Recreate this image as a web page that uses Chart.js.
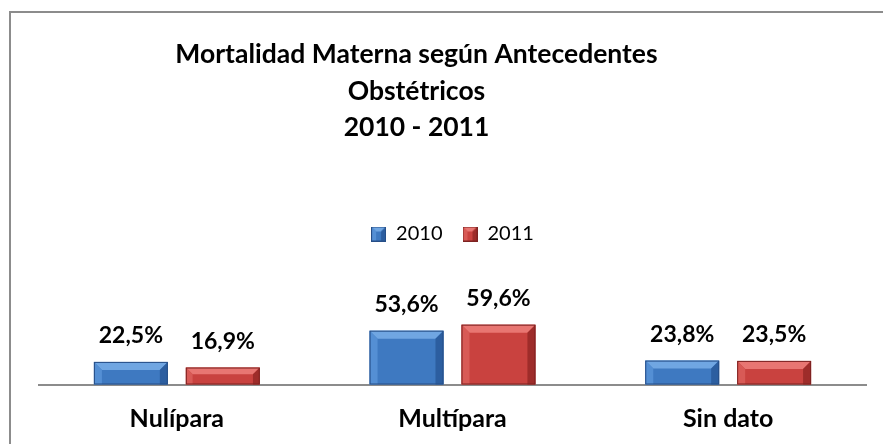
<!DOCTYPE html>
<html><head><meta charset="utf-8">
<script src="https://cdn.jsdelivr.net/npm/chart.js@4/dist/chart.umd.min.js"></script>
<style>html,body{margin:0;padding:0;background:#fff}</style>
</head><body>
<canvas id="c" width="883" height="444" style="display:block"></canvas>
<script>
const categories = ['Nulípara', 'Multípara', 'Sin dato'];
const seriesNames = ['2010', '2011'];
const values2010 = [22.5, 53.6, 23.8];
const values2011 = [16.9, 59.6, 23.5];
const titleLines = ['Mortalidad Materna según Antecedentes', 'Obstétricos', '2010 - 2011'];

const palette = {
  '2010': {face: 'rgb(62,121,193)', top: 'rgb(112,166,226)', left: 'rgb(84,143,212)', right: 'rgb(44,94,160)', edge: 'rgb(38,78,135)'},
  '2011': {face: 'rgb(201,66,63)', top: 'rgb(232,118,114)', left: 'rgb(216,90,86)', right: 'rgb(158,44,42)', edge: 'rgb(125,34,33)'}
};

function bevel(ctx, left, right, top, bottom, c, bMax) {
  const h = bottom - top;
  const b = Math.min(bMax, h / 2.5);
  ctx.save();
  ctx.fillStyle = c.face;
  ctx.fillRect(left, top, right - left, h);
  ctx.fillStyle = c.top;
  ctx.beginPath();
  ctx.moveTo(left, top); ctx.lineTo(right, top); ctx.lineTo(right - b, top + b); ctx.lineTo(left + b, top + b); ctx.closePath(); ctx.fill();
  ctx.fillStyle = c.left;
  ctx.beginPath();
  ctx.moveTo(left, top); ctx.lineTo(left + b, top + b); ctx.lineTo(left + b, bottom); ctx.lineTo(left, bottom); ctx.closePath(); ctx.fill();
  ctx.fillStyle = c.right;
  ctx.beginPath();
  ctx.moveTo(right, top); ctx.lineTo(right - b, top + b); ctx.lineTo(right - b, bottom); ctx.lineTo(right, bottom); ctx.closePath(); ctx.fill();
  ctx.strokeStyle = c.edge;
  ctx.lineWidth = 1;
  ctx.strokeRect(left + 0.5, top + 0.5, right - left - 1, h - 1);
  ctx.restore();
}

function legendIcon(c) {
  const cv = document.createElement('canvas');
  cv.width = 15; cv.height = 15;
  bevel(cv.getContext('2d'), 0, 15, 0, 15, c, 5);
  return cv;
}

const barBevelPlugin = {
  id: 'barBevel',
  afterDatasetsDraw(chart) {
    const ctx = chart.ctx;
    chart.data.datasets.forEach((ds, di) => {
      const meta = chart.getDatasetMeta(di);
      const c = palette[ds.label];
      meta.data.forEach((bar, i) => {
        const p = bar.getProps(['x', 'y', 'base', 'width'], true);
        bevel(ctx, p.x - p.width / 2, p.x + p.width / 2, p.y, p.base, c, 8);
        const txt = ds.data[i].toFixed(1).replace('.', ',') + '%';
        ctx.save();
        ctx.font = 'bold 23px Lato';
        ctx.fillStyle = '#000';
        ctx.textAlign = 'center';
        ctx.textBaseline = 'alphabetic';
        ctx.fillText(txt, p.x, p.y - 19);
        ctx.restore();
      });
    });
  }
};

const framePlugin = {
  id: 'frame',
  beforeDraw(chart) {
    const ctx = chart.ctx;
    ctx.save();
    ctx.fillStyle = '#fff';
    ctx.fillRect(0, 0, chart.width, chart.height);
    ctx.strokeStyle = '#8c8c8c';
    ctx.lineWidth = 2;
    ctx.beginPath();
    ctx.moveTo(10, 444); ctx.lineTo(10, 12); ctx.lineTo(883, 12);
    ctx.stroke();
    ctx.restore();
  },
  afterDraw(chart) {
    const ctx = chart.ctx;
    ctx.save();
    ctx.font = 'bold 26.5px Lato';
    ctx.fillStyle = '#000';
    ctx.textAlign = 'center';
    ctx.textBaseline = 'alphabetic';
    const baselines = [63, 99.5, 136];
    titleLines.forEach((t, i) => ctx.fillText(t, 416.5, baselines[i]));
    ctx.restore();
  }
};

new Chart(document.getElementById('c'), {
  type: 'bar',
  data: {
    labels: categories,
    datasets: [
      {label: seriesNames[0], data: values2010, backgroundColor: 'rgba(0,0,0,0)', borderWidth: 0},
      {label: seriesNames[1], data: values2011, backgroundColor: 'rgba(0,0,0,0)', borderWidth: 0}
    ]
  },
  options: {
    responsive: false,
    animation: false,
    layout: {padding: {left: 39, right: 17, top: 204, bottom: 0}},
    categoryPercentage: 0.667,
    barPercentage: 0.804,
    plugins: {
      title: {display: false},
      tooltip: {enabled: false},
      legend: {
        display: true,
        position: 'top',
        labels: {
          font: {family: 'Lato', size: 20},
          color: '#000',
          padding: 20,
          boxWidth: 15,
          boxHeight: 15,
          usePointStyle: true,
          generateLabels(chart) {
            return chart.data.datasets.map((ds, i) => ({
              text: ds.label,
              pointStyle: legendIcon(palette[ds.label]),
              fillStyle: palette[ds.label].face,
              strokeStyle: palette[ds.label].edge,
              lineWidth: 0,
              hidden: false,
              datasetIndex: i,
              fontColor: '#000'
            }));
          }
        }
      }
    },
    scales: {
      y: {display: false, min: 0, max: 130},
      x: {
        grid: {display: false},
        border: {display: true, color: '#8c8c8c', width: 2},
        ticks: {font: {family: 'Lato', size: 25, weight: 'bold'}, color: '#000', padding: 11.5},
        afterFit(scale) { scale.height = 59.5; }
      }
    }
  },
  plugins: [framePlugin, barBevelPlugin]
});
</script>
</body></html>
